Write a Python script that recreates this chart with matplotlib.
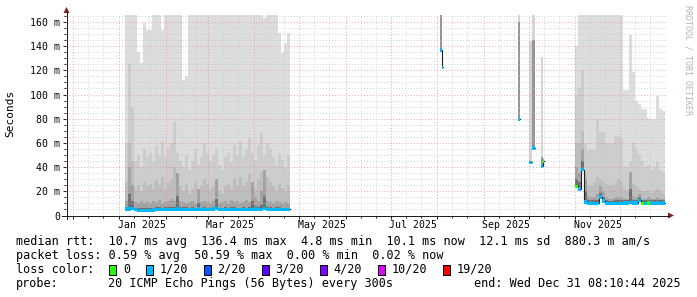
import numpy as np
import pandas as pd
import matplotlib
matplotlib.use('Agg')
import matplotlib.pyplot as plt
import matplotlib.dates as mdates
from matplotlib.lines import Line2D
from matplotlib.patches import Polygon, Rectangle
from matplotlib.transforms import IdentityTransform

plt.rcParams['font.family'] = ['DejaVu Sans Mono', 'DejaVu Sans']

# ---------------- data (values in ms) ----------------
t_start = '2024-11-26 08:10:44'
t_end = '2025-12-31 08:10:44'

# block 1: 2-day buckets from Jan 5 2025
seg1_start = '2025-01-05'
seg1_median = [5.4, 5.4, 5.6, 4.8, 4.3, 4.2, 4.2, 4.2, 4.3, 4.6,
               4.9, 5.0, 5.0, 5.0, 5.1, 5.0, 5.0, 5.2, 5.0, 5.0,
               5.1, 5.0, 5.0, 5.0, 5.2, 5.0, 5.0, 5.0, 5.0, 5.2,
               5.6, 5.0, 5.0, 5.0, 5.1, 5.0, 5.1, 5.0, 5.0, 5.1,
               5.0, 5.1, 5.1, 5.3, 5.0, 5.1, 5.8, 5.1, 5.0, 5.1,
               5.0, 5.0, 5.1, 5.0, 5.0]
seg1_max = [166, 166, 166, 166, 135, 126, 159, 153, 153, 166,
            166, 166, 153, 166, 166, 166, 166, 166, 166, 112,
            115, 166, 166, 166, 166, 166, 166, 166, 166, 166,
            166, 166, 166, 166, 166, 166, 166, 166, 166, 166,
            166, 166, 166, 166, 166, 166, 163, 166, 166, 166,
            166, 151, 134, 143, 151]
seg1_q2 = [60, 125, 90, 45, 50, 40, 55, 48, 52, 45,
           58, 50, 62, 48, 55, 60, 78, 52, 45, 40,
           50, 38, 45, 55, 42, 48, 60, 52, 45, 50,
           55, 42, 38, 48, 52, 44, 58, 50, 62, 48,
           55, 64, 52, 46, 58, 68, 50, 60, 55, 48,
           42, 52, 46, 40, 50]
seg1_q3 = [28, 60, 45, 22, 25, 20, 28, 24, 26, 22,
           30, 25, 32, 22, 27, 30, 40, 26, 24, 20,
           26, 18, 22, 28, 20, 24, 30, 26, 22, 25,
           28, 20, 18, 24, 26, 22, 30, 25, 32, 24,
           28, 34, 26, 22, 30, 36, 24, 32, 28, 24,
           20, 26, 23, 20, 25]
seg1_q4 = [12, 40, 25, 11, 10, 12, 10, 11, 10, 12,
           11, 13, 10, 11, 12, 14, 12, 35, 12, 11,
           10, 11, 12, 10, 22, 11, 12, 11, 10, 12,
           30, 10, 11, 12, 10, 13, 11, 12, 10, 11,
           13, 11, 28, 15, 12, 20, 38, 12, 11, 10,
           12, 11, 10, 11, 10]
seg1_q5 = [7, 18, 12, 6.5, 6, 6, 6, 6.2, 6.2, 6.5,
           6.8, 7, 6.6, 6.8, 6.8, 7, 6.8, 16, 7, 6.8,
           6.7, 6.6, 6.8, 6.6, 10, 6.6, 6.8, 6.6, 6.6, 6.9,
           14, 6.6, 6.6, 6.7, 6.6, 6.8, 6.7, 6.6, 6.6, 6.7,
           6.6, 6.7, 12, 7.5, 6.8, 9, 16, 6.8, 6.7, 6.6,
           6.7, 6.7, 6.6, 6.6, 6.6]
seg1_loss = [1, 1, 1, 1, 1, 1, 1, 1, 1, 1,
             1, 1, 1, 1, 1, 1, 1, 1, 1, 1,
             1, 1, 1, 1, 1, 1, 1, 1, 1, 1,
             1, 1, 1, 1, 1, 1, 1, 1, 1, 1,
             1, 1, 1, 1, 1, 1, 1, 1, 1, 1,
             1, 1, 1, 1, 1]

# block 2: 2-day buckets from Nov 1 2025
seg3_start = '2025-11-01'
seg3_median = [24, 22, 38, 11, 10, 9.8, 9.8, 10, 15.5, 12,
               10, 9.8, 9.8, 10, 10, 10, 10.2, 10.4, 10.8, 10.2,
               10.4, 12.5, 10, 10, 10.5, 10.2, 10, 10.2, 10, 10.2]
seg3_max = [140, 166, 166, 166, 166, 166, 166, 166, 166, 166,
            166, 166, 166, 166, 166, 166, 104, 104, 149, 119,
            95, 92, 88, 88, 81, 80, 80, 99, 88, 86]
seg3_q2 = [100, 105, 120, 60, 54, 54, 54, 80, 69, 69,
           60, 60, 60, 66, 66, 64, 40, 40, 45, 60,
           55, 50, 45, 40, 42, 38, 40, 44, 38, 36]
seg3_q3 = [60, 60, 70, 35, 25, 25, 28, 32, 30, 28,
           26, 25, 25, 27, 30, 28, 22, 20, 28, 26,
           24, 22, 20, 20, 21, 19, 20, 22, 20, 19]
seg3_q4 = [40, 35, 55, 30, 16, 15, 15, 18, 24, 20,
           15, 14, 14, 15, 15, 15, 14, 14, 36, 16,
           15, 18, 14, 14, 15, 14, 14, 15, 14, 14]
seg3_q5 = [30, 28, 45, 20, 13, 12.5, 12.5, 13, 19, 15,
           12.5, 12, 12, 12.5, 12.5, 12.5, 12.5, 12.5, 22, 12.5,
           12.5, 15, 12.5, 12.5, 13, 12.5, 12.5, 12.5, 12.5, 12.5]
seg3_loss = [0, 1, 1, 1, 1, 1, 1, 1, 1, 1,
             1, 1, 1, 1, 1, 1, 1, 1, 1, 1,
             1, 1, 0, 1, 0, 1, 1, 1, 1, 1]

# isolated samples between the blocks
spk_start = ['2025-08-02 18:00', '2025-08-03 18:00', '2025-09-23 12:00',
             '2025-10-01 00:00', '2025-10-03 06:00', '2025-10-09 06:00',
             '2025-10-10 06:00']
spk_days = [1, 1, 1.5, 2, 1.5, 1, 1]
spk_median = [137, 122.5, 79.5, 44, 56, 41, 45]
spk_max = [166, 124, 166, 144, 166, 131, 47]
spk_dark = [166, 124, 160, 44, 145, 48, 47]
spk_loss = [1, 1, 1, 1, 1, 1, 0]
spk_group = [0, 0, 1, 2, 3, 4, 4]

loss_labels = ['0', '1/20', '2/20', '3/20', '4/20', '10/20', '19/20']
loss_colors = ['#26ff00', '#00b8ff', '#0059ff', '#5e00ff', '#7e00ff', '#dd00ff', '#ff0000']
smoke_colors = ['#dddddd', '#cdcdcd', '#bdbdbd', '#a2a2a2', '#707070']

y_major = [0, 20, 40, 60, 80, 100, 120, 140, 160]
y_labels = ['0', '20 m', '40 m', '60 m', '80 m', '100 m', '120 m', '140 m', '160 m']
x_label_months = ['2025-01-01', '2025-03-01', '2025-05-01', '2025-07-01', '2025-09-01', '2025-11-01']
minor_days = [11, 21]

stats_rtt = 'median rtt:  10.7 ms avg  136.4 ms max  4.8 ms min  10.1 ms now  12.1 ms sd  880.3 m am/s'
stats_loss = 'packet loss: 0.59 % avg  50.59 % max  0.00 % min  0.02 % now'
probe_text = '20 ICMP Echo Pings (56 Bytes) every 300s'
end_text = 'end: Wed Dec 31 08:10:44 2025'

# ---------------- layout (pixels) ----------------
W, H = 697, 297
X0, XW = 66, 600          # plot area left / width
Y_TOP, Y_ZERO = 14.7, 215.5
fig = plt.figure(figsize=(W / 100, H / 100), dpi=100)
fig.patch.set_facecolor('white')
ax = fig.add_axes([X0 / W, (H - Y_ZERO) / H, XW / W, (Y_ZERO - Y_TOP) / H])
ax.set_facecolor('white')
for s in ax.spines.values():
    s.set_visible(False)

tnum = lambda v: mdates.date2num(pd.to_datetime(v))
x_lo, x_hi = tnum(t_start), tnum(t_end)

HW = 1.45  # half height of loss band


def draw_block(t, w, med, layers, loss):
    med = np.asarray(med, float)
    for vals, col in zip(layers, smoke_colors):
        vals = np.asarray(vals, float)
        ax.bar(t, vals - med, bottom=med, width=w, align='edge', color=col,
               linewidth=0, antialiased=False, zorder=1)
    ax.bar(t, 2 * HW, bottom=med - HW, width=w, align='edge',
           color=[loss_colors[k] for k in loss], linewidth=0, antialiased=False, zorder=4)


def median_line(t, w, med):
    e = np.append(t, t[-1] + w[-1])
    ax.step(e, np.append(med, med[-1]), where='post', color='#202020', lw=0.8, zorder=3)


t1 = tnum(pd.date_range(seg1_start, periods=len(seg1_median), freq='2D'))
w1 = np.full(len(t1), 2.0)
draw_block(t1, w1, seg1_median, [seg1_max, seg1_q2, seg1_q3, seg1_q4, seg1_q5], seg1_loss)
median_line(t1, w1, seg1_median)

t3 = tnum(pd.date_range(seg3_start, periods=len(seg3_median), freq='2D'))
w3 = np.full(len(t3), 2.0)
draw_block(t3, w3, seg3_median, [seg3_max, seg3_q2, seg3_q3, seg3_q4, seg3_q5], seg3_loss)
median_line(t3, w3, seg3_median)

ts = tnum(spk_start)
ws = np.asarray(spk_days, float)
sm = np.asarray(spk_median, float)
ax.bar(ts, np.asarray(spk_max) - sm, bottom=sm, width=ws, align='edge', color='#d6d6d6',
       linewidth=0, antialiased=False, zorder=1)
ax.bar(ts, np.asarray(spk_dark) - sm, bottom=sm, width=ws, align='edge', color='#959595',
       linewidth=0, antialiased=False, zorder=1)
ax.bar(ts, 2 * HW, bottom=sm - HW, width=ws, align='edge',
       color=[loss_colors[k] for k in spk_loss], linewidth=0, antialiased=False, zorder=4)
grp = np.asarray(spk_group)
for g in np.unique(grp):
    m = grp == g
    median_line(ts[m], ws[m], sm[m])

# ---------------- grid (dotted, rrdtool style) ----------------
minor_col, major_col = '#c4c4c4', '#e08a8a'
GLW = 0.5
for v in range(5, 166, 5):
    ax.axhline(v, color=major_col if v % 20 == 0 else minor_col, lw=GLW,
               dashes=(1.4, 2.8), zorder=2.5)
month_starts = pd.date_range('2024-12-01', '2025-12-01', freq='MS')
minor_x = [tnum(m + pd.Timedelta(days=d - 1))
           for m in pd.date_range('2024-11-01', '2025-12-01', freq='MS') for d in minor_days]
minor_x = [v for v in minor_x if x_lo < v < x_hi]
for v in minor_x:
    ax.axvline(v, color=minor_col, lw=GLW, dashes=(1.4, 2.8), zorder=2.5)
for d in month_starts:
    ax.axvline(tnum(d), color=major_col, lw=GLW, dashes=(1.4, 2.8), zorder=2.5)

# ---------------- ticks & labels ----------------
ax.set_xticks(tnum(month_starts))
ax.set_xticks(minor_x, minor=True)
ax.set_xticklabels([])
ax.set_yticks(y_major)
ax.set_yticks(range(5, 166, 5), minor=True)
ax.set_yticklabels(y_labels, fontsize=7.1)
ax.tick_params(axis='both', which='major', length=2.2, width=0.72, color='#1f1f1f', pad=2.2)
ax.tick_params(axis='both', which='minor', length=1.4, width=0.72, color='#1f1f1f')
ax.set_xlim(x_lo, x_hi)
ax.set_ylim(0, 166)

xlab_tr = ax.get_xaxis_transform()
for m in x_label_months:
    lab = pd.Timestamp(m)
    ax.text(tnum(lab + pd.Timedelta(days=15)), -(224.5 - Y_ZERO) / (Y_ZERO - Y_TOP),
            lab.strftime('%b %Y'), transform=xlab_tr, ha='center', va='center', fontsize=7.1)

# axis lines and arrows (pixel coordinates)
idt = IdentityTransform()
axis_col, arrow_col = '#1f1f1f', '#801f1f'
fig.add_artist(Line2D([62, 669], [H - Y_ZERO, H - Y_ZERO], transform=idt, color=axis_col, lw=0.72))
fig.add_artist(Line2D([66.5, 66.5], [H - 219, H - 12], transform=idt, color=axis_col, lw=0.72))
fig.add_artist(Polygon([[668, H - Y_ZERO + 3], [668, H - Y_ZERO - 3], [674, H - Y_ZERO]],
                       closed=True, transform=idt, color=arrow_col, lw=0))
fig.add_artist(Polygon([[63.5, H - 13], [69.5, H - 13], [66.5, H - 7]],
                       closed=True, transform=idt, color=arrow_col, lw=0))

fig.text(10 / W, 1 - 113 / H, 'Seconds', rotation=90, ha='center', va='center', fontsize=8)
fig.text(688 / W, 1 - 60 / H, 'RRDTOOL / TOBI OETIKER', rotation=270, ha='center', va='center',
         fontsize=6, color='#b4b4b4')

# ---------------- legend ----------------
FS = 8.5
CW = 7.1
rows_y = [241, 255.5, 269.5, 283.5]
fig.text(16 / W, 1 - rows_y[0] / H, stats_rtt, ha='left', va='center', fontsize=FS)
fig.text(16 / W, 1 - rows_y[1] / H, stats_loss, ha='left', va='center', fontsize=FS)
fig.text(16 / W, 1 - rows_y[2] / H, 'loss color:', ha='left', va='center', fontsize=FS)
x = 16 + 13 * CW
for lab, col in zip(loss_labels, loss_colors):
    fig.add_artist(Rectangle((x + 0.5, H - rows_y[2] - 5), 7, 10, transform=idt,
                             facecolor=col, edgecolor='black', lw=0.72))
    fig.text((x + 14.6) / W, 1 - rows_y[2] / H, lab, ha='left', va='center', fontsize=FS)
    x = x + 14.6 + len(lab) * CW + 15
fig.text(16 / W, 1 - rows_y[3] / H, 'probe:', ha='left', va='center', fontsize=FS)
fig.text((16 + 13 * CW) / W, 1 - rows_y[3] / H, probe_text, ha='left', va='center', fontsize=FS)
fig.text(681 / W, 1 - rows_y[3] / H, end_text, ha='right', va='center', fontsize=FS)

fig.savefig('out.png', dpi=100)
